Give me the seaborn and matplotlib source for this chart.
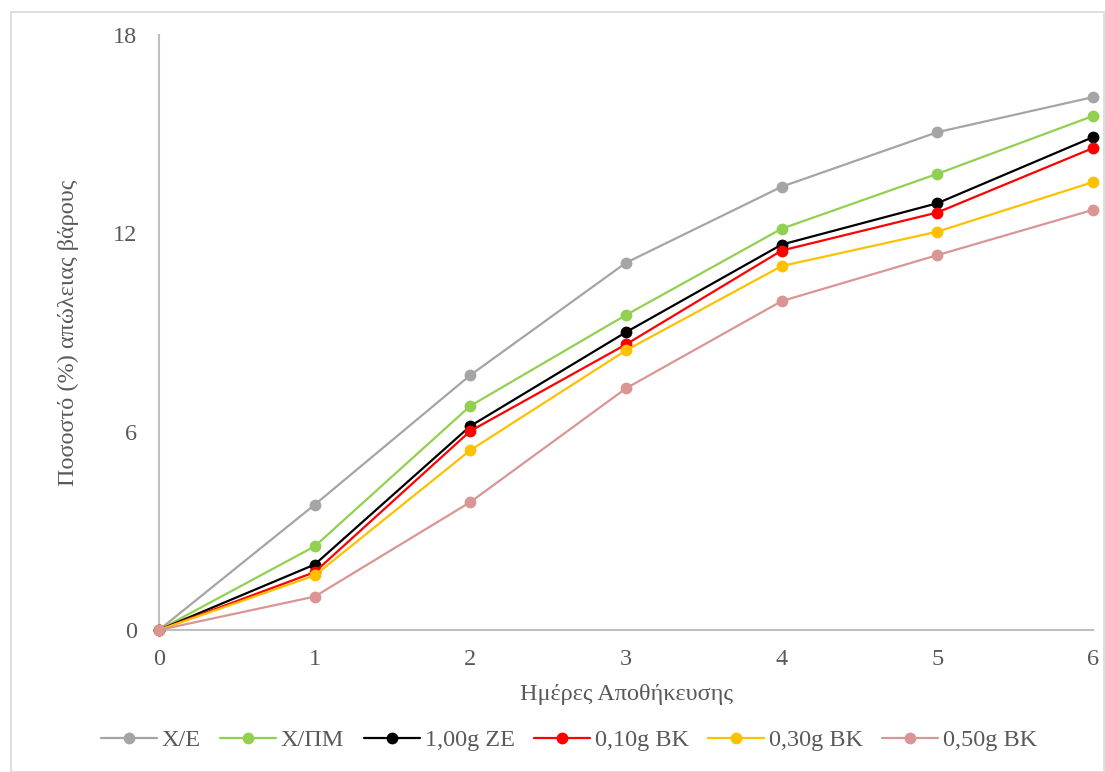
import matplotlib
matplotlib.use("Agg")
import matplotlib.pyplot as plt
import seaborn as sns
import pandas as pd
from matplotlib.patches import Rectangle

days = [0, 1, 2, 3, 4, 5, 6]
series_names = ["Χ/Ε", "Χ/ΠΜ", "1,00g ΖΕ", "0,10g ΒΚ", "0,30g ΒΚ", "0,50g ΒΚ"]
xe = [0, 3.79, 7.71, 11.11, 13.41, 15.06, 16.12]
xpm = [0, 2.53, 6.78, 9.53, 12.14, 13.80, 15.55]
ze100 = [0, 1.98, 6.17, 9.01, 11.66, 12.91, 14.91]
bk010 = [0, 1.75, 6.02, 8.64, 11.48, 12.63, 14.58]
bk030 = [0, 1.65, 5.44, 8.46, 11.01, 12.05, 13.55]
bk050 = [0, 1.01, 3.87, 7.31, 9.95, 11.34, 12.71]
colors = ["#A5A5A5", "#92D050", "#000000", "#FF0000", "#FFC000", "#D99694"]

all_series = [xe, xpm, ze100, bk010, bk030, bk050]
rows = []
for name, vals in zip(series_names, all_series):
    for d, v in zip(days, vals):
        rows.append({"day": d, "value": v, "series": name})
df = pd.DataFrame(rows)

sns.set_theme(style="white")
plt.rcParams["font.family"] = ["Liberation Serif", "DejaVu Serif"]

fig = plt.figure(figsize=(11.05, 7.72), dpi=100)
ax = fig.add_axes([159/1105, 1 - 630/772, (1093-159)/1105, (630-35)/772])

sns.lineplot(data=df, x="day", y="value", hue="series", hue_order=series_names,
             palette=colors, marker="o", markersize=8.5, markeredgewidth=0,
             linewidth=1.6, ax=ax, legend=True, clip_on=False)

ax.set_xlim(0, 6)
ax.set_ylim(0, 18)
ax.set_xticks(days)
ax.set_yticks([0, 6, 12, 18])
ax.tick_params(axis="both", length=0, labelsize=17.5, colors="#595959")
ax.tick_params(axis="y", pad=16)
ax.tick_params(axis="x", pad=14)
for s in ["top", "right"]:
    ax.spines[s].set_visible(False)
for s in ["left", "bottom"]:
    ax.spines[s].set_color("#BFBFBF")
    ax.spines[s].set_linewidth(1.5)
    ax.spines[s].set_zorder(0.5)
ax.set_xlabel("Ημέρες Αποθήκευσης", fontsize=17.5, color="#595959", labelpad=10)
ax.set_ylabel("Ποσοστό (%) απώλειας βάρους", fontsize=17.5, color="#595959", labelpad=24)

handles, labels = ax.get_legend_handles_labels()
ax.legend(handles, labels, loc="center", bbox_to_anchor=(0.515, 1 - 740/772),
          bbox_transform=fig.transFigure, ncol=6, frameon=False, fontsize=17.5,
          handlelength=2.3, columnspacing=0.8, handletextpad=0.2,
          labelcolor="#595959")

fig.patches.append(Rectangle((11/1105, 0), (1105-11)/1105 - 0.001, 1 - 12/772,
                             transform=fig.transFigure, fill=False,
                             edgecolor="#D9D9D9", linewidth=1.2))

fig.savefig("out.png", dpi=100)
